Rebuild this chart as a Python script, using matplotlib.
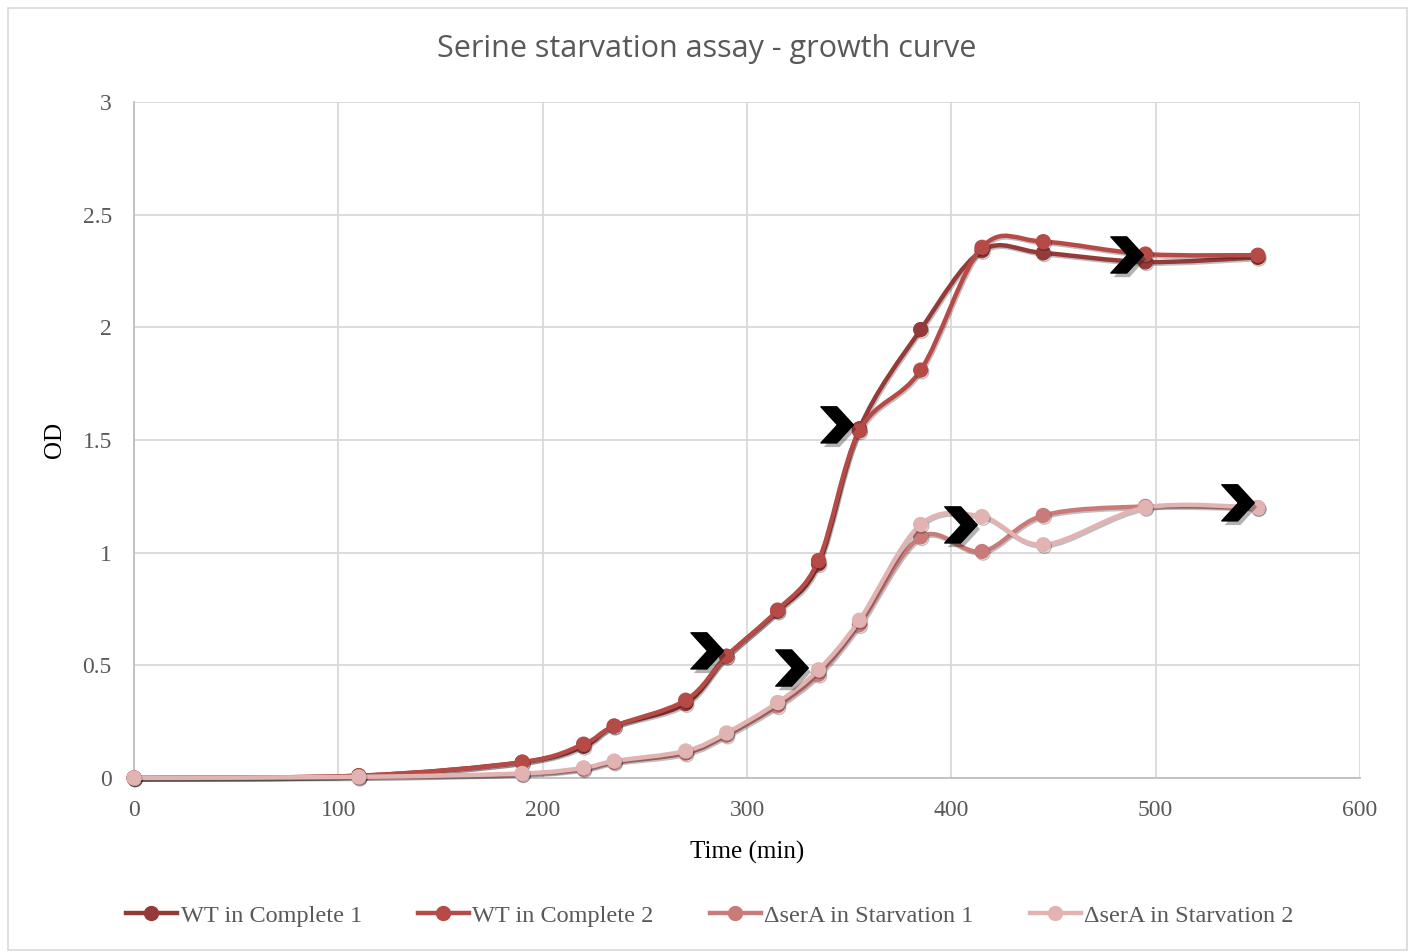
import numpy as np
import matplotlib
matplotlib.use("Agg")
import matplotlib.pyplot as plt
from matplotlib.path import Path
from matplotlib.patches import PathPatch, Rectangle
from matplotlib.lines import Line2D
import matplotlib.patheffects as pe

# sampling times (min) and optical density readings
time = [0, 110, 190, 220, 235, 270, 290, 315, 335, 355, 385, 415, 445, 495, 550]
wt_complete_1 = [0, 0.01, 0.07, 0.14, 0.23, 0.33, 0.54, 0.74, 0.95, 1.55, 1.99, 2.34, 2.33, 2.29, 2.31]
wt_complete_2 = [0, 0.01, 0.07, 0.15, 0.23, 0.345, 0.54, 0.745, 0.965, 1.54, 1.81, 2.355, 2.38, 2.325, 2.32]
sera_starv_1 = [0, 0.003, 0.018, 0.04, 0.07, 0.11, 0.19, 0.32, 0.46, 0.68, 1.07, 1.005, 1.165, 1.205, 1.2]
sera_starv_2 = [0, 0.005, 0.02, 0.045, 0.075, 0.12, 0.2, 0.335, 0.48, 0.7, 1.125, 1.16, 1.035, 1.2, 1.2]

series_names = ["WT in Complete 1", "WT in Complete 2", "ΔserA in Starvation 1", "ΔserA in Starvation 2"]
series_colors = ["#943a38", "#b64a47", "#c97b79", "#e1b3b2"]

# sampling events marked with chevrons
mark_time = [280, 321.5, 343.6, 404.2, 485.5, 539.8]
mark_od = [0.564, 0.488, 1.567, 1.123, 2.321, 1.221]

SERIF = ["Liberation Serif", "DejaVu Serif"]
GREY = "#595959"


def smooth_path(x, y):
    # Catmull-Rom style cubic bezier through every point
    pts = np.column_stack([np.asarray(x, float), np.asarray(y, float)])
    n = len(pts)
    verts = [pts[0]]
    codes = [Path.MOVETO]
    for i in range(n - 1):
        p0 = pts[i - 1] if i > 0 else pts[i]
        p1 = pts[i]
        p2 = pts[i + 1]
        p3 = pts[i + 2] if i + 2 < n else pts[i + 1]
        verts += [p1 + (p2 - p0) / 6.0, p2 - (p3 - p1) / 6.0, p2]
        codes += [Path.CURVE4] * 3
    return Path(verts, codes)


chevron = Path([(-0.42, 0.5), (0.02, 0.5), (0.48, 0.0), (0.02, -0.5), (-0.42, -0.5), (0.04, 0.0), (-0.42, 0.5)],
               [Path.MOVETO, Path.LINETO, Path.LINETO, Path.LINETO, Path.LINETO, Path.LINETO, Path.CLOSEPOLY])

fig = plt.figure(figsize=(14.14, 9.52), dpi=100)
fig.patches.append(Rectangle((0.006, 0.002), 0.989, 0.99, transform=fig.transFigure,
                             fill=False, edgecolor="#d9d9d9", linewidth=1.2))
ax = fig.add_axes([0.0948, 0.1828, 0.867, 0.7101])

ax.set_xlim(0, 600)
ax.set_ylim(0, 3)
ax.set_xticks(range(0, 601, 100))
ax.set_yticks([0, 0.5, 1, 1.5, 2, 2.5, 3])
ax.set_yticklabels(["0", "0.5", "1", "1.5", "2", "2.5", "3"])
ax.grid(True, color="#d9d9d9", linewidth=1.3)
ax.set_axisbelow(True)
for side in ["top", "right"]:
    ax.spines[side].set_visible(False)
for side in ["left", "bottom"]:
    ax.spines[side].set_color("#bfbfbf")
    ax.spines[side].set_linewidth(1.3)
ax.tick_params(length=0, labelsize=17, labelcolor=GREY)
ax.tick_params(axis="x", pad=16)
ax.tick_params(axis="y", pad=16)
for lab in ax.get_xticklabels() + ax.get_yticklabels():
    lab.set_family(SERIF)

line_shadow = [pe.SimpleLineShadow(offset=(0.8, -1.2), alpha=0.25), pe.Normal()]
all_series = [wt_complete_1, wt_complete_2, sera_starv_1, sera_starv_2]
for k, (vals, color) in enumerate(zip(all_series, series_colors)):
    patch = PathPatch(smooth_path(time, vals), fill=False, edgecolor=color, linewidth=3.2,
                      capstyle="round", joinstyle="round", zorder=3 + k * 0.1, clip_on=False)
    patch.set_path_effects(line_shadow)
    ax.add_patch(patch)
    ax.plot(time, vals, linestyle="none", marker="o", markersize=10, color=color,
            zorder=3.05 + k * 0.1, clip_on=False, path_effects=line_shadow)

ax.plot(mark_time, mark_od, linestyle="none", marker=chevron, markersize=26, color="black",
        zorder=6, path_effects=[pe.SimplePatchShadow(offset=(2, -3), alpha=0.3), pe.Normal()])

ax.set_xlabel("Time (min)", family=SERIF, fontsize=18, color="black", labelpad=14)
ax.set_ylabel("OD", family=SERIF, fontsize=18, color="black", labelpad=12)
fig.text(0.5, 0.949, "Serine starvation assay - growth curve", ha="center", va="center",
         family=["Open Sans", "DejaVu Sans"], fontsize=22, color=GREY)

handles = [Line2D([], [], color=c, linewidth=3.2, marker="o", markersize=10) for c in series_colors]
leg = fig.legend(handles, series_names, loc="center", bbox_to_anchor=(0.502, 0.038), ncol=4,
                 frameon=False, handlelength=2.1, handletextpad=0.15, columnspacing=2.3,
                 prop={"family": SERIF, "size": 17.5})
for t in leg.get_texts():
    t.set_color(GREY)

fig.savefig("out.png", dpi=100)
